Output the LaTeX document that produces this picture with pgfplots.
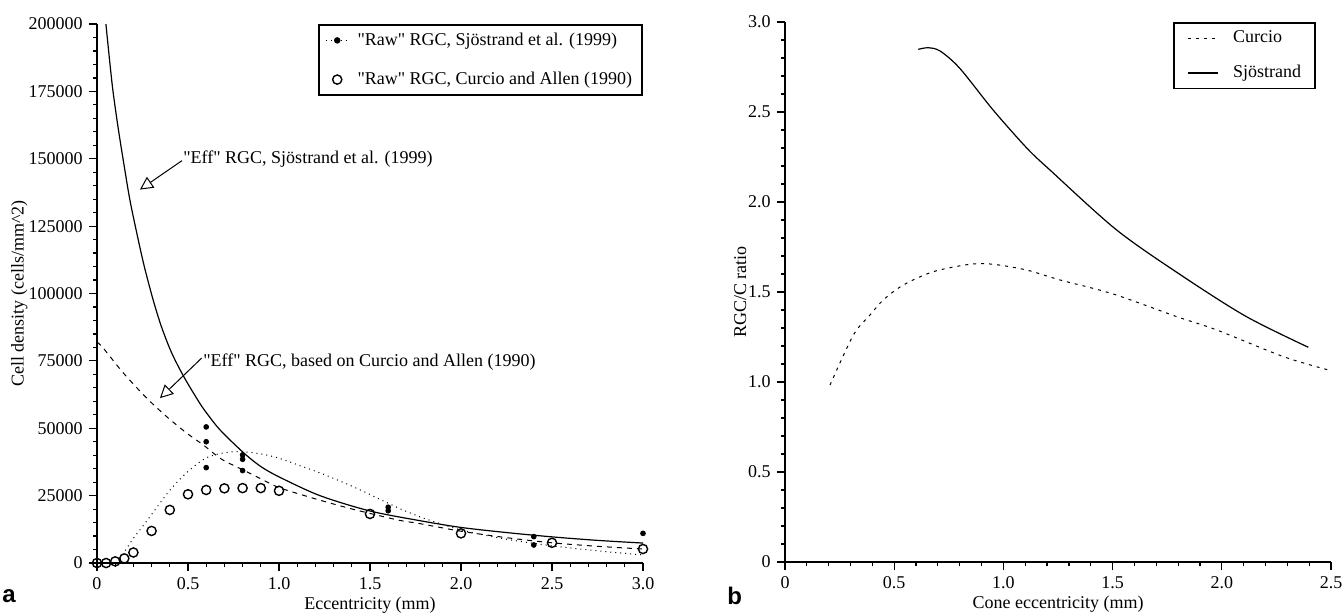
\documentclass[border=0pt]{standalone}
\usepackage{pgfplots}
\pgfplotsset{compat=1.18}
\usepackage{fontspec}
\setmainfont{Liberation Serif}[Ligatures=TeXOff]
\newfontfamily\panelfont{Liberation Sans}
\usetikzlibrary{arrows.meta}
\newcommand\dq{\symbol{34}}

\pgfplotsset{
  myaxis/.style={
    scale only axis,
    axis lines*=left,
    axis line style={line width=1pt},
    tick align=outside,
    major tick length=4pt,
    minor tick length=2pt,
    tick style={line width=0.6pt, black},
    tick label style={font=\fontsize{9}{11}\selectfont},
    label style={font=\fontsize{9}{11}\selectfont},
    /pgf/number format/assume math mode=true,
    scaled ticks=false,
    clip=false,
    minor x tick num=4,
    minor y tick num=4,
  }
}

\begin{document}
\fontsize{9}{11}\selectfont
\begin{tikzpicture}
\useasboundingbox (0,0) rectangle (671.5pt,-306pt);

% ---------------- panel a ----------------
\begin{axis}[myaxis,
  at={(48.5pt,-281.5pt)}, anchor=south west,
  width=273pt, height=269.5pt,
  xmin=0, xmax=3, ymin=0, ymax=200000,
  xtick={0,0.5,1,1.5,2,2.5,3},
  xticklabels={0,0.5,1.0,1.5,2.0,2.5,3.0},
  ytick={0,25000,50000,75000,100000,125000,150000,175000,200000},
  yticklabels={0,25000,50000,75000,100000,125000,150000,175000,200000},
  xlabel={Eccentricity (mm)},
  ylabel={Cell density (cells/mm\textasciicircum 2)},
  xlabel style={at={(axis description cs:0.5,0)}, anchor=base, yshift=-23pt, inner sep=0pt},
  ylabel style={at={(axis description cs:-0.1264,0.5)}, anchor=south, inner sep=0pt},
  legend style={at={(1,1)}, anchor=north east, draw=black, line width=0.8pt,
    inner xsep=3pt, inner ysep=2pt, row sep=8pt,
    font=\fontsize{9}{11}\selectfont},
  legend cell align=left,
]
\addplot[dotted, line width=0.5pt, smooth, forget plot] coordinates {
 (0.11,0) (0.145,3500) (0.2,9200) (0.25,13500) (0.3,18000) (0.4,27000)
 (0.5,34000) (0.6,39000) (0.7,40900) (0.79,41300) (0.9,40500) (1.0,38900)
 (1.1,36500) (1.23,33300) (1.35,30000) (1.45,27000) (1.55,23800) (1.67,20000)
 (1.78,17000) (1.9,14300) (2.0,12300) (2.2,9400) (2.4,7300) (2.6,5600)
 (2.8,4200) (3.0,3000)};
\addplot[dash pattern=on 2.5pt off 2.5pt, line width=0.5pt, smooth, forget plot] coordinates {
 (0,82000) (0.035,79700) (0.145,70500) (0.273,61200) (0.383,54300) (0.493,48200)
 (0.584,43800) (0.685,38500) (0.804,34500) (0.896,31400) (1.0,28000) (1.19,24000)
 (1.37,20600) (1.5,18400) (1.665,15800) (1.775,14600) (2.0,11800) (2.25,9400)
 (2.5,7500) (2.75,6200) (3.0,5200)};
\addplot[solid, line width=0.6pt, smooth, forget plot] coordinates {
 (0.049,200000) (0.07,186000) (0.088,175000) (0.115,162000) (0.143,150000)
 (0.18,135000) (0.22,122000) (0.26,110000) (0.309,97500) (0.355,87500)
 (0.41,78000) (0.474,69500) (0.547,61200) (0.593,56500) (0.676,49400)
 (0.804,41000) (0.9,35800) (1.005,31800) (1.225,25000) (1.5,19300)
 (1.775,15700) (2.0,13200) (2.25,11300) (2.5,9700) (2.75,8400) (3.0,7400)};
\addplot[only marks, mark=*, mark size=1.2pt, black,
  legend image code/.code={
    \draw[dotted, line width=0.5pt] (0pt,0pt) -- (11.5pt,0pt);
    \fill[black] (5.75pt,0pt) circle (1.2pt);
    \path (13.5pt,0pt);}]
 coordinates {
 (0.6,50500) (0.6,45000) (0.6,35400) (0.8,40100) (0.8,38500) (0.8,34300)
 (1.6,20700) (1.6,19400) (2.4,9800) (2.4,6700) (3.0,11000)};
\addlegendentry{\dq Raw\dq{} RGC, Sjöstrand et al. (1999)}
\addplot[only marks, mark=o, mark size=2.3pt, black, line width=0.7pt,
  mark options={fill=white},
  legend image code/.code={
    \draw[black, line width=0.7pt, fill=white] (5.75pt,0pt) circle (2.3pt);
    \path (0pt,0pt) (13.5pt,0pt);}]
 coordinates {
 (0,0) (0.05,0) (0.1,600) (0.15,1700) (0.2,3900) (0.3,11900) (0.4,19700)
 (0.5,25500) (0.6,27100) (0.7,27700) (0.8,27800) (0.9,27800) (1.0,26800)
 (1.5,18200) (2.0,11000) (2.5,7500) (3.0,5200)};
\addlegendentry{\dq Raw\dq{} RGC, Curcio and Allen (1990)}

\node[anchor=west, inner sep=0pt] at (axis cs:0.4725,149700) {\dq Eff\dq{} RGC, Sjöstrand et al. (1999)};
\draw[line width=0.5pt, -{Triangle[open, length=6.5pt, width=6.5pt]}]
  (axis cs:0.467,149300) -- (axis cs:0.236,138560);
\node[anchor=west, inner sep=0pt] at (axis cs:0.582,74700) {\dq Eff\dq{} RGC, based on Curcio and Allen (1990)};
\draw[line width=0.5pt, -{Triangle[open, length=6.5pt, width=6.5pt]}]
  (axis cs:0.575,76040) -- (axis cs:0.346,61180);
\end{axis}

% ---------------- panel b ----------------
\begin{axis}[myaxis,
  at={(392.5pt,-281pt)}, anchor=south west,
  width=273pt, height=270pt,
  xmin=0, xmax=2.5, ymin=0, ymax=3,
  xtick={0,0.5,1,1.5,2,2.5},
  xticklabels={0,0.5,1.0,1.5,2.0,2.5},
  ytick={0,0.5,1,1.5,2,2.5,3},
  yticklabels={0,0.5,1.0,1.5,2.0,2.5,3.0},
  xlabel={Cone eccentricity (mm)},
  ylabel={RGC/C ratio},
  xlabel style={at={(axis description cs:0.5,0)}, anchor=base, yshift=-23pt, inner sep=0pt},
  ylabel style={at={(axis description cs:-0.07,0.5)}, anchor=south, inner sep=0pt},
  legend style={at={(0.9725,1)}, anchor=north east, draw=black, line width=0.8pt,
    inner xsep=5pt, inner ysep=2pt, row sep=6pt,
    font=\fontsize{9}{11}\selectfont},
  legend cell align=left,
]
\addplot[dash pattern=on 1.5pt off 2.5pt, line width=0.5pt, smooth,
  legend image code/.code={\draw[dash pattern=on 1.5pt off 2.5pt, line width=0.5pt] (1.5pt,0pt) -- (16.5pt,0pt); \path (0pt,0pt) (22pt,0pt);}]
 coordinates {
 (0.206,0.983) (0.313,1.261) (0.389,1.372) (0.45,1.456) (0.542,1.539)
 (0.679,1.613) (0.847,1.654) (0.954,1.654) (1.107,1.622) (1.259,1.567)
 (1.5,1.49) (1.794,1.363) (1.977,1.289) (2.282,1.141) (2.488,1.067)};
\addlegendentry{Curcio}
\addplot[solid, line width=0.6pt, smooth,
  legend image code/.code={\draw[line width=0.6pt] (1.5pt,0pt) -- (16.5pt,0pt); \path (0pt,0pt) (22pt,0pt);}]
 coordinates {
 (0.61,2.848) (0.655,2.857) (0.71,2.839) (0.80,2.743) (0.953,2.511)
 (1.107,2.30) (1.213,2.178) (1.519,1.844) (1.824,1.585) (2.113,1.363)
 (2.396,1.193)};
\addlegendentry{Sjöstrand}
\end{axis}

\node[anchor=base west, inner sep=0pt, font={\panelfont\bfseries\fontsize{12}{14}\selectfont}] at (1pt,-301pt) {a};
\node[anchor=base west, inner sep=0pt, font={\panelfont\bfseries\fontsize{12}{14}\selectfont}] at (363.5pt,-302pt) {b};
\end{tikzpicture}
\end{document}
